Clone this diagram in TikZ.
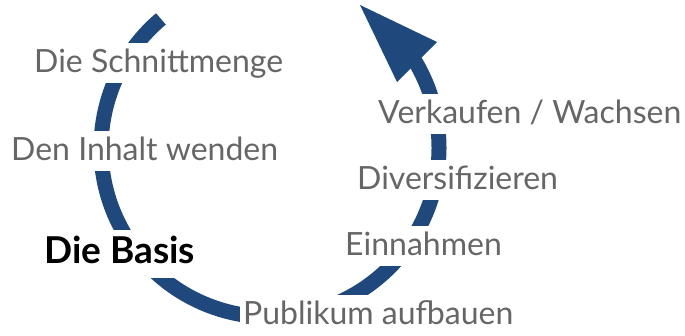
\documentclass[tikz,border=0pt]{standalone}
\usepackage{fontspec}
\setmainfont{Lato}
\definecolor{cycblue}{HTML}{1F497D}
\definecolor{labgray}{HTML}{666666}
\tikzset{
  lab/.style={anchor=base west, fill=white, text=labgray, font=\fontsize{32}{38}\selectfont,
    inner xsep=3pt, inner ysep=7pt, text height=23pt, text depth=3pt},
  labbold/.style={lab, text=black, font=\fontsize{37}{44}\selectfont\bfseries,
    text height=27pt, text depth=7pt},
  cyc/.style={draw=cycblue, line width=15pt}
}
\begin{document}
\begin{tikzpicture}[x=1pt,y=-1pt]
\useasboundingbox (0,0) rectangle (685,336);
\coordinate (c) at (270,148);
\draw[cyc] (c) ++(130.2:169pt) arc[start angle=130.2, end angle=392, radius=169pt];
\coordinate (tip) at (360,5);
\coordinate (hr) at (437,42);
\coordinate (hl) at (397,82);
\fill[cycblue] (tip) -- (hr) -- (hl) -- cycle;
\node[lab] (n1) at (31,73) {Die Schnittmenge};
\node[lab] (n2) at (8,161) {Den Inhalt wenden};
\node[labbold] (n3) at (41,264) {Die Basis};
\node[lab] (n4) at (240,325) {Publikum aufbauen};
\node[lab] (n5) at (342,256) {Einnahmen};
\node[lab] (n6) at (354,190) {Diversifizieren};
\node[lab] (n7) at (375,124) {Verkaufen / Wachsen};
\end{tikzpicture}
\end{document}
